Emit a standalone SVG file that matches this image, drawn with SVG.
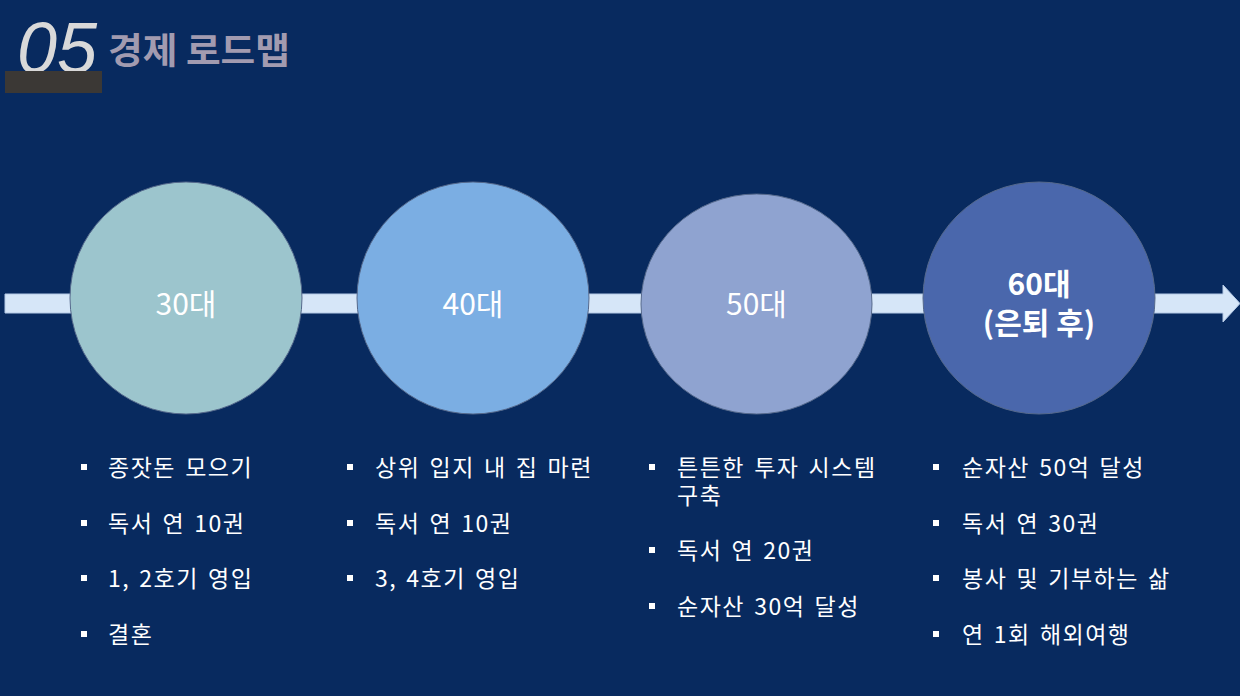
<svg xmlns="http://www.w3.org/2000/svg" width="1240" height="696" viewBox="0 0 1240 696">
<defs>
<style>
.bg{fill:#082a5f}
.node{stroke:#55698c;stroke-width:1}
.lbl{font-family:"Noto Sans CJK KR","Noto Sans",sans-serif;font-size:30px;fill:#ffffff;text-anchor:middle;font-weight:400}
.lbl-b{font-weight:700}
.item{font-family:"Noto Sans CJK KR","Noto Sans",sans-serif;font-size:23px;fill:#ffffff;letter-spacing:1.5px;word-spacing:2.5px}
.bul{fill:#ffffff}
</style>
</defs>
<rect class="bg" x="0" y="0" width="1240" height="696"/>
<g id="title">
<text x="17" y="73" font-family="Liberation Sans, Arial, sans-serif" font-style="italic" font-size="72" fill="#d9d9d9">05</text>
<rect x="5" y="71" width="97" height="22" fill="#3b3835"/>
<text x="108" y="64" font-family="Noto Sans CJK KR, sans-serif" font-weight="bold" font-size="36" fill="#a29bb0" textLength="182" lengthAdjust="spacingAndGlyphs">경제 로드맵</text>
</g>
<g id="connectors">
<polygon points="5,294 1223,294 1223,285 1240,303.5 1223,322 1223,313 5,313" fill="#d6e6f8" stroke="#b4c9e6" stroke-width="1"/>
</g>
<g id="node-30">
<ellipse class="node" cx="186" cy="298" rx="116" ry="116" fill="#9cc5cd"/>
<text class="lbl" x="186" y="315">30대</text>
</g>
<g id="node-40">
<ellipse class="node" cx="473" cy="298" rx="116" ry="116" fill="#7baee3"/>
<text class="lbl" x="473" y="315">40대</text>
</g>
<g id="node-50">
<ellipse class="node" cx="756.5" cy="304" rx="115.5" ry="110" fill="#8fa3d0"/>
<text class="lbl" x="756.5" y="315">50대</text>
</g>
<g id="node-60">
<ellipse class="node" cx="1039" cy="298" rx="116" ry="116" fill="#4a67ac"/>
<text class="lbl lbl-b" x="1039" y="295">60대</text>
<text class="lbl lbl-b" x="1039" y="334">(은퇴 후)</text>
</g>
<g id="list-30">
<rect class="bul" x="81" y="464" width="6" height="6"/>
<text class="item" x="108" y="476">종잣돈 모으기</text>
<rect class="bul" x="81" y="520" width="6" height="6"/>
<text class="item" x="108" y="532">독서 연 10권</text>
<rect class="bul" x="81" y="575" width="6" height="6"/>
<text class="item" x="108" y="587">1, 2호기 영입</text>
<rect class="bul" x="81" y="631" width="6" height="6"/>
<text class="item" x="108" y="643">결혼</text>
</g>
<g id="list-40">
<rect class="bul" x="347" y="464" width="6" height="6"/>
<text class="item" x="375" y="476">상위 입지 내 집 마련</text>
<rect class="bul" x="347" y="520" width="6" height="6"/>
<text class="item" x="375" y="532">독서 연 10권</text>
<rect class="bul" x="347" y="575" width="6" height="6"/>
<text class="item" x="375" y="587">3, 4호기 영입</text>
</g>
<g id="list-50">
<rect class="bul" x="649" y="464" width="6" height="6"/>
<text class="item" x="677" y="476">튼튼한 투자 시스템</text>
<text class="item" x="677" y="504">구축</text>
<rect class="bul" x="649" y="547" width="6" height="6"/>
<text class="item" x="677" y="559">독서 연 20권</text>
<rect class="bul" x="649" y="603" width="6" height="6"/>
<text class="item" x="677" y="615">순자산 30억 달성</text>
</g>
<g id="list-60">
<rect class="bul" x="933" y="464" width="6" height="6"/>
<text class="item" x="962" y="476">순자산 50억 달성</text>
<rect class="bul" x="933" y="520" width="6" height="6"/>
<text class="item" x="962" y="532">독서 연 30권</text>
<rect class="bul" x="933" y="575" width="6" height="6"/>
<text class="item" x="962" y="587">봉사 및 기부하는 삶</text>
<rect class="bul" x="933" y="631" width="6" height="6"/>
<text class="item" x="962" y="643">연 1회 해외여행</text>
</g>
</svg>
